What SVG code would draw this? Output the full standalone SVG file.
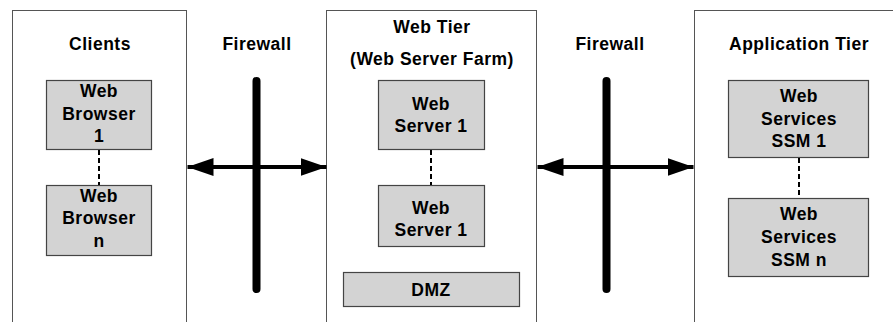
<svg xmlns="http://www.w3.org/2000/svg" width="893" height="322" viewBox="0 0 893 322">
<defs>
<style>
text{font-family:"Liberation Sans",Arial,sans-serif;font-weight:bold;font-size:17.5px;letter-spacing:0.5px;fill:#000;text-anchor:middle}
.tier{fill:#fff;stroke:#555;stroke-width:1}
.node{fill:#d3d3d3;stroke:#444;stroke-width:1.2}
.dash{stroke:#000;stroke-width:2;stroke-dasharray:5,3;fill:none}
.fw{stroke:#000;stroke-width:8;stroke-linecap:round}
.arr{stroke:#000;stroke-width:4;fill:none}
</style>
<marker id="ah" viewBox="0 0 26 18" refX="26" refY="9" markerWidth="26" markerHeight="18" markerUnits="userSpaceOnUse" orient="auto-start-reverse">
<path d="M0,0 L26,9 L0,18 Z" fill="#000"/>
</marker>
</defs>
<rect width="893" height="322" fill="#fff"/>
<g id="clients">
<rect class="tier" x="12.5" y="10.5" width="174" height="330"/>
<text x="100" y="50">Clients</text>
</g>
<g id="webtier">
<rect class="tier" x="326.5" y="10.5" width="210" height="330"/>
<text x="432" y="33">Web Tier</text>
<text x="432" y="65">(Web Server Farm)</text>
</g>
<g id="apptier">
<rect class="tier" x="694.5" y="10.5" width="220" height="330"/>
<text x="799" y="50">Application Tier</text>
</g>
<g id="browser1">
<rect class="node" x="46.5" y="80.5" width="105" height="69"/>
<text x="99" y="97">Web</text>
<text x="99" y="119.5">Browser</text>
<text x="99" y="142">1</text>
</g>
<g id="browsern">
<rect class="node" x="46.5" y="185.5" width="105" height="70"/>
<text x="99" y="201.5">Web</text>
<text x="99" y="224">Browser</text>
<text x="99" y="246.5">n</text>
</g>
<g id="webserver1">
<rect class="node" x="378.5" y="80.5" width="106" height="69"/>
<text x="431" y="110">Web</text>
<text x="431" y="132">Server 1</text>
</g>
<g id="webserver2">
<rect class="node" x="378.5" y="185.5" width="106" height="61"/>
<text x="431" y="214">Web</text>
<text x="431" y="236">Server 1</text>
</g>
<g id="dmz">
<rect class="node" x="343.5" y="272.5" width="176" height="34"/>
<text x="431" y="296">DMZ</text>
</g>
<g id="ssm1">
<rect class="node" x="728.5" y="80.5" width="140" height="77"/>
<text x="799" y="102">Web</text>
<text x="799" y="124.5">Services</text>
<text x="799" y="147">SSM 1</text>
</g>
<g id="ssmn">
<rect class="node" x="728.5" y="198.5" width="140" height="78"/>
<text x="799" y="220">Web</text>
<text x="799" y="243">Services</text>
<text x="799" y="265.5">SSM n</text>
</g>
<g id="firewall1">
<text x="257" y="50">Firewall</text>
<line class="fw" x1="256.5" y1="81" x2="256.5" y2="289"/>
</g>
<g id="firewall2">
<text x="610" y="50">Firewall</text>
<line class="fw" x1="606.5" y1="81" x2="606.5" y2="289"/>
</g>
<g id="connectors">
<line class="dash" x1="99" y1="150" x2="99" y2="185"/>
<line class="dash" x1="431" y1="150" x2="431" y2="185"/>
<line class="dash" x1="799" y1="158" x2="799" y2="198"/>
<line class="arr" x1="187.5" y1="167" x2="326.5" y2="167" marker-start="url(#ah)" marker-end="url(#ah)"/>
<line class="arr" x1="537.5" y1="167" x2="693.5" y2="167" marker-start="url(#ah)" marker-end="url(#ah)"/>
</g>
</svg>
